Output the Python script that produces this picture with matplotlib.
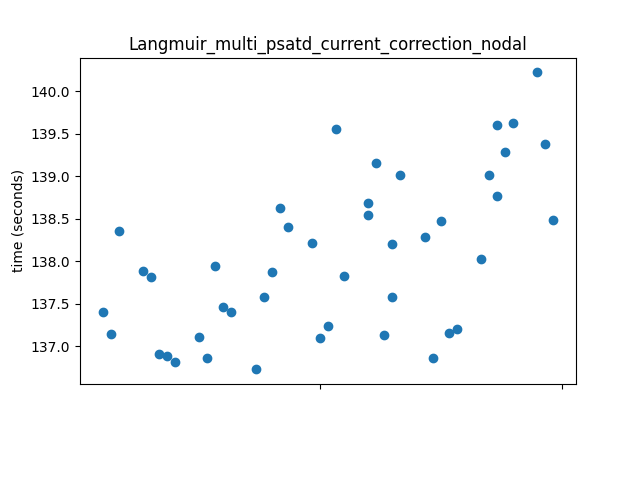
import datetime as dt
import matplotlib
matplotlib.use("Agg")
import matplotlib.pyplot as plt
import matplotlib.dates as mdates
import matplotlib.ticker as mticker

start = dt.date(2021, 6, 1)

# day offsets from 2021-06-01 (weekdays, some days with two runs)
day_offsets = [-27, -26, -25, -22, -21, -20, -19, -18, -15, -14, -13, -12, -11,
               -8, -7, -6, -5, -4, -1, 0, 1, 2, 3, 6, 6, 7, 8, 9, 9, 10,
               13, 14, 15, 16, 17, 20, 21, 22, 22, 23, 24, 27, 28, 29]
times = [137.40, 137.14, 138.36, 137.88, 137.81, 136.91, 136.88, 136.81, 137.11,
         136.86, 137.94, 137.46, 137.40, 136.73, 137.58, 137.87, 138.62, 138.40,
         138.21, 137.10, 137.24, 139.56, 137.82, 138.69, 138.54, 139.16, 137.13,
         138.20, 137.58, 139.01, 138.29, 136.86, 138.47, 137.16, 137.20, 138.03,
         139.01, 139.60, 138.77, 139.29, 139.62, 140.22, 139.38, 138.48]

dates = [start + dt.timedelta(days=d) for d in day_offsets]

fig, ax = plt.subplots(figsize=(6.4, 4.8), dpi=100)
fig.subplots_adjust(bottom=0.2)

ax.scatter(dates, times)
ax.set_title('Langmuir_multi_psatd_current_correction_nodal')
ax.set_ylabel('time (seconds)')

ax.xaxis.set_major_locator(mdates.MonthLocator())
ax.xaxis.set_major_formatter(mticker.NullFormatter())

plt.savefig('out.png')
plt.close()
